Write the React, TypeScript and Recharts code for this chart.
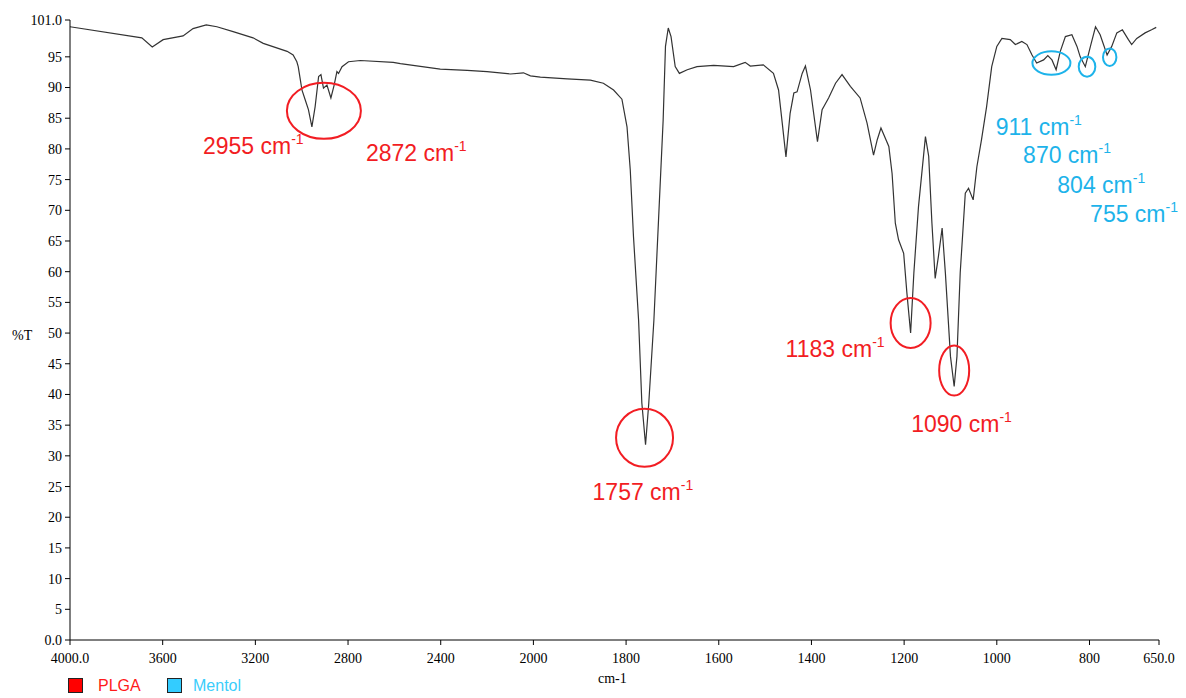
import React from 'react';
import { LineChart, Line, XAxis, YAxis, ReferenceDot } from 'recharts';

// ---- data ----
const WAVENUMBERS = [
  4000, 3690, 3645, 3598, 3512, 3469, 3412, 3366, 3296, 3210, 3166, 3063, 3037, 3021, 3015,
  3006, 2999, 2985, 2971, 2956, 2942, 2927, 2917, 2906, 2891, 2874, 2860, 2848, 2841, 2826,
  2798, 2747, 2605, 2574, 2402, 2286, 2200, 2099, 2043, 2013, 1985, 1927, 1877, 1849, 1827,
  1809, 1798, 1791, 1784, 1773, 1766, 1758, 1751, 1740, 1730, 1720, 1715, 1709, 1703, 1694,
  1685, 1668, 1647, 1611, 1568, 1543, 1532, 1504, 1482, 1471, 1463, 1455, 1446, 1438, 1431,
  1420, 1413, 1402, 1387, 1377, 1363, 1348, 1334, 1316, 1295, 1280, 1266, 1258, 1250, 1233,
  1226, 1219, 1212, 1201, 1194, 1186, 1179, 1169, 1154, 1147, 1140, 1133, 1126, 1118, 1111,
  1100, 1092, 1086, 1079, 1068, 1061, 1051, 1043, 1033, 1022, 1011, 1000, 989, 971, 960,
  946, 935, 924, 914, 899, 890, 881, 872, 863, 852, 838, 827, 820, 809, 798,
  787, 777, 762, 752, 741, 729, 716, 709, 698, 680, 666, 656,
];
const TRANSMITTANCE = [
  99.9, 98.1, 96.6, 97.8, 98.4, 99.6, 100.2, 99.9, 99.1, 98.1, 97.2, 95.9, 95.3, 94.2, 93.4,
  91.3, 89.6, 88.0, 86.4, 83.6, 86.9, 91.8, 92.1, 89.9, 90.4, 88.3, 90.4, 92.6, 92.3, 93.4,
  94.2, 94.4, 94.1, 93.9, 93.0, 92.8, 92.6, 92.2, 92.4, 91.9, 91.7, 91.4, 91.2, 90.7, 89.6,
  88.1, 83.6, 76.6, 65.7, 52.1, 38.6, 31.8, 38.6, 52.1, 68.4, 84.7, 96.7, 99.7, 98.3, 93.4,
  92.3, 92.9, 93.4, 93.6, 93.4, 94.1, 93.5, 93.7, 92.3, 89.6, 84.2, 78.7, 85.8, 89.1, 89.3,
  92.3, 93.5, 89.6, 81.2, 86.4, 88.3, 90.7, 92.1, 90.2, 88.3, 84.2, 79.0, 81.5, 83.4, 80.4,
  76.0, 67.9, 65.2, 63.0, 56.5, 50.0, 59.8, 70.6, 82.0, 78.8, 67.9, 58.9, 62.5, 67.1, 59.8,
  46.2, 41.3, 46.2, 59.8, 72.8, 73.6, 71.7, 77.1, 81.5, 86.9, 93.4, 96.7, 98.0, 97.8, 97.0,
  97.5, 97.0, 95.3, 94.0, 94.5, 95.2, 94.5, 92.9, 95.9, 98.3, 98.6, 96.7, 95.0, 93.4, 96.7,
  99.9, 98.6, 95.3, 96.7, 98.9, 99.4, 97.8, 97.0, 98.0, 98.9, 99.4, 99.8,
];
const X_TICKS = [4000, 3600, 3200, 2800, 2400, 2000, 1800, 1600, 1400, 1200, 1000, 800, 650];
const Y_TICKS = [0, 5, 10, 15, 20, 25, 30, 35, 40, 45, 50, 55, 60, 65, 70, 75, 80, 85, 90, 95, 101];
const RED_PEAKS = [2955, 2872, 1757, 1183, 1090];
const BLUE_PEAKS = [911, 870, 804, 755];
const LEGEND_NAMES = ['PLGA', 'Mentol'];
const X_TITLE = 'cm-1';
const Y_TITLE = '%T';

// ---- styling ----
const RED = '#f21d23';
const BLUE = '#1db3ea';
const LEGEND_BLUE = '#3acdfb';
const W = 1186;
const H = 698;

// offsets (px) relative to each peak point: text start/baseline, optional ellipse
const ANNOT_STYLE: Record<number, { tx: number; ty: number; e?: { dx: number; dy: number; rx: number; ry: number } }> = {
  2955: { tx: -109, ty: 27, e: { dx: 12, dy: -16, rx: 37, ry: 28 } },
  2872: { tx: 35, ty: 63 },
  1757: { tx: -53, ty: 55, e: { dx: -1, dy: -7, rx: 28.5, ry: 29 } },
  1183: { tx: -125, ty: 24, e: { dx: 0, dy: -10, rx: 20, ry: 25 } },
  1090: { tx: -43, ty: 46, e: { dx: 0, dy: -16, rx: 15, ry: 25 } },
  911: { tx: -41, ty: 72 },
  870: { tx: -33, ty: 93, e: { dx: -4.7, dy: -6.7, rx: 19, ry: 11.7 } },
  804: { tx: -28, ty: 126, e: { dx: 1.7, dy: 0, rx: 8.3, ry: 10 } },
  755: { tx: -17, ty: 167, e: { dx: 2.6, dy: 2.2, rx: 6.7, ry: 8.8 } },
};

// piecewise-linear wavenumber axis (4000-2000 at half the scale of 2000-650)
const toU = (wn: number) => (wn >= 2000 ? (4000 - wn) / 2 : 1000 + (2000 - wn));
const fromU = (u: number) => (u <= 1000 ? 4000 - 2 * u : 2000 - (u - 1000));

const data = WAVENUMBERS.map((wn, i) => ({ u: toU(wn), t: TRANSMITTANCE[i] }));

const peakPoint = (peak: number) => {
  let best = -1;
  WAVENUMBERS.forEach((wn, i) => {
    if (Math.abs(wn - peak) <= 15 && (best < 0 || TRANSMITTANCE[i] < TRANSMITTANCE[best])) best = i;
  });
  return { u: toU(WAVENUMBERS[best]), t: TRANSMITTANCE[best] };
};

const serif = '"Liberation Serif", "Times New Roman", serif';
const sans = '"Liberation Sans", Arial, sans-serif';

const makeShape = (peak: number, color: string) => (props: any) => {
  const { cx, cy } = props;
  const s = ANNOT_STYLE[peak];
  return (
    <g>
      {s.e && (
        <ellipse cx={cx + s.e.dx} cy={cy + s.e.dy} rx={s.e.rx} ry={s.e.ry} fill="none" stroke={color} strokeWidth={2} />
      )}
      <text x={cx + s.tx} y={cy + s.ty} fill={color} fontSize={23} fontFamily={sans}>
        {peak} cm
        <tspan fontSize={14} dy={-10}>-1</tspan>
      </text>
    </g>
  );
};

const xTickFmt = (v: number) => {
  const wn = Math.round(fromU(v));
  return wn === 4000 || wn === 650 ? wn.toFixed(1) : String(wn);
};
const yTickFmt = (v: number) => (v === 0 || v === 101 ? v.toFixed(1) : String(v));

export default function App() {
  const tickStyle = { fontSize: 14, fontFamily: serif, fill: '#000' };
  return (
    <div style={{ position: 'absolute', left: 0, top: 0, width: W, height: H, background: '#fff' }}>
      <LineChart width={W} height={H} data={data} margin={{ top: 20, right: 27, bottom: 28, left: 10 }}>
        <XAxis
          dataKey="u"
          type="number"
          domain={[0, 2350]}
          ticks={X_TICKS.map(toU)}
          interval={0}
          tickFormatter={xTickFmt}
          tick={tickStyle}
          tickSize={5}
          tickMargin={8}
          stroke="#000"
          height={30}
          allowDataOverflow
        />
        <YAxis
          type="number"
          domain={[0, 101]}
          ticks={Y_TICKS}
          interval={0}
          tickFormatter={yTickFmt}
          tick={tickStyle}
          tickSize={5}
          tickMargin={3}
          stroke="#000"
          width={60}
          allowDataOverflow
        />
        <Line
          dataKey="t"
          type="linear"
          stroke="#333"
          strokeWidth={1.2}
          dot={false}
          activeDot={false}
          isAnimationActive={false}
        />
        {RED_PEAKS.map((p) => {
          const pt = peakPoint(p);
          return <ReferenceDot key={'r' + p} x={pt.u} y={pt.t} r={1} shape={makeShape(p, RED)} />;
        })}
        {BLUE_PEAKS.map((p) => {
          const pt = peakPoint(p);
          return <ReferenceDot key={'b' + p} x={pt.u} y={pt.t} r={1} shape={makeShape(p, BLUE)} />;
        })}
      </LineChart>
      <svg width={W} height={H} style={{ position: 'absolute', left: 0, top: 0, pointerEvents: 'none' }}>
        <text x={12} y={340} fontSize={14} fontFamily={serif} fill="#000">{Y_TITLE}</text>
        <text x={598} y={683} fontSize={14} fontFamily={serif} fill="#000">{X_TITLE}</text>
        <rect x={68.5} y={678.5} width={14} height={14} fill="#ff0000" stroke="#222" strokeWidth={1} />
        <text x={98} y={691} fontSize={16} fontFamily={sans} fill="#ff1a1a">{LEGEND_NAMES[0]}</text>
        <rect x={167.5} y={678.5} width={14} height={14} fill="#33ccff" stroke="#222" strokeWidth={1} />
        <text x={193} y={691} fontSize={16} fontFamily={sans} fill={LEGEND_BLUE}>{LEGEND_NAMES[1]}</text>
      </svg>
    </div>
  );
}
